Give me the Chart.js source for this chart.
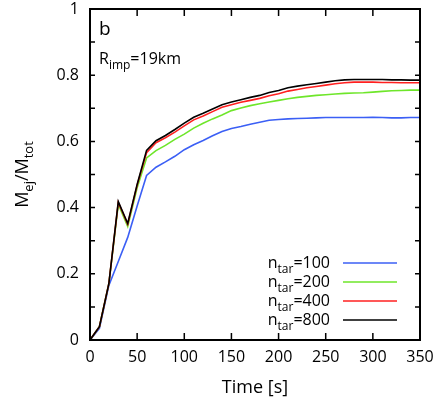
<!DOCTYPE html>
<html>
<head>
<meta charset="utf-8">
<script src="https://cdn.jsdelivr.net/npm/chart.js@4.4.0/dist/chart.umd.min.js"></script>
<style>
  html, body { margin: 0; padding: 0; background: #fff; }
  #wrap { width: 437px; height: 399px; }
</style>
</head>
<body>
<div id="wrap"><canvas id="myChart" width="437" height="399"></canvas></div>
<script>
var times = [0, 10, 20, 30, 40, 50, 60, 70, 80, 90, 100, 110, 120, 130, 140, 150, 160, 170, 180,
  190, 200, 210, 220, 230, 240, 250, 260, 270, 280, 290, 300, 310, 320, 330, 340, 350];

var n100 = [0, 0.035, 0.165, 0.237, 0.31, 0.405, 0.497, 0.522, 0.538, 0.555, 0.575, 0.59, 0.603,
  0.617, 0.63, 0.639, 0.645, 0.652, 0.658, 0.664, 0.666, 0.668, 0.669, 0.67, 0.671, 0.672, 0.672,
  0.672, 0.672, 0.672, 0.673, 0.672, 0.671, 0.671, 0.672, 0.672];
var n200 = [0, 0.04, 0.17, 0.41, 0.343, 0.46, 0.55, 0.572, 0.588, 0.606, 0.622, 0.64, 0.655,
  0.668, 0.68, 0.693, 0.701, 0.708, 0.714, 0.719, 0.724, 0.729, 0.733, 0.736, 0.739, 0.741, 0.743,
  0.745, 0.746, 0.747, 0.749, 0.751, 0.753, 0.754, 0.755, 0.755];
var n400 = [0, 0.04, 0.17, 0.416, 0.35, 0.468, 0.566, 0.596, 0.611, 0.628, 0.647, 0.665, 0.677,
  0.69, 0.703, 0.711, 0.718, 0.724, 0.73, 0.738, 0.744, 0.752, 0.757, 0.762, 0.766, 0.77, 0.774,
  0.777, 0.779, 0.779, 0.779, 0.778, 0.778, 0.777, 0.777, 0.777];
var n800 = [0, 0.04, 0.17, 0.418, 0.352, 0.47, 0.573, 0.602, 0.618, 0.636, 0.655, 0.673, 0.685,
  0.698, 0.711, 0.719, 0.726, 0.733, 0.739, 0.748, 0.754, 0.762, 0.767, 0.771, 0.775, 0.779, 0.783,
  0.786, 0.787, 0.787, 0.787, 0.787, 0.786, 0.786, 0.785, 0.785];

var seriesLabels = ["100", "200", "400", "800"];
var seriesColors = ["#3b5ff5", "#6ee62a", "#ff2020", "#000000"];
var seriesValues = [n100, n200, n400, n800];

var FONT = "'Open Sans', sans-serif";

function pts(vals) {
  return vals.map(function (v, i) { return { x: times[i], y: v }; });
}

// draws text with subscript parts, parts = [[text, isSub], ...]
function subText(ctx, parts, x, y, size, align) {
  var big = size + "px " + FONT, small = Math.round(size * 0.72) + "px " + FONT;
  var w = 0;
  parts.forEach(function (p) { ctx.font = p[1] ? small : big; w += ctx.measureText(p[0]).width; });
  var cx = align === "right" ? x - w : align === "center" ? x - w / 2 : x;
  parts.forEach(function (p) {
    ctx.font = p[1] ? small : big;
    ctx.fillText(p[0], cx, p[1] ? y + size * 0.3 : y);
    cx += ctx.measureText(p[0]).width;
  });
}

var frame = {
  id: "frame",
  afterDraw: function (chart) {
    var ctx = chart.ctx, a = chart.chartArea;
    var xs = chart.scales.x, ys = chart.scales.y;
    ctx.save();
    ctx.strokeStyle = "#000";
    ctx.lineWidth = 2;
    ctx.strokeRect(a.left, a.top, a.right - a.left, a.bottom - a.top);
    ctx.lineWidth = 1.5;
    ctx.beginPath();
    for (var t = 50; t < 350; t += 50) {
      var px = xs.getPixelForValue(t);
      ctx.moveTo(px, a.bottom); ctx.lineTo(px, a.bottom - 7);
      ctx.moveTo(px, a.top); ctx.lineTo(px, a.top + 7);
    }
    for (var k = 1; k < 10; k++) {
      var py = ys.getPixelForValue(k / 10);
      ctx.moveTo(a.left, py); ctx.lineTo(a.left + 5, py);
      ctx.moveTo(a.right, py); ctx.lineTo(a.right - 5, py);
    }
    ctx.stroke();

    ctx.fillStyle = "#000";
    ctx.textBaseline = "alphabetic";
    ctx.textAlign = "left";
    ctx.font = "19px " + FONT;
    ctx.fillText("b", a.left + 9, a.top + 26);
    subText(ctx, [["R", false], ["imp", true], ["=19km", false]], a.left + 9, a.top + 55, 16, "left");

    // x title
    ctx.font = "18px " + FONT;
    ctx.textAlign = "center";
    ctx.fillText("Time [s]", (a.left + a.right) / 2, 393);

    // y title
    ctx.save();
    ctx.translate(28, (a.top + a.bottom) / 2);
    ctx.rotate(-Math.PI / 2);
    ctx.textAlign = "left";
    subText(ctx, [["M", false], ["ej", true], ["/M", false], ["tot", true]], 0, 0, 18, "center");
    ctx.restore();

    // legend
    ctx.textAlign = "left";
    for (var i = 0; i < seriesLabels.length; i++) {
      var ly = 263 + i * 19;
      subText(ctx, [["n", false], ["tar", true], ["=" + seriesLabels[i], false]], 330, ly + 5, 16, "right");
      ctx.strokeStyle = seriesColors[i];
      ctx.lineWidth = 1.5;
      ctx.beginPath();
      ctx.moveTo(343, ly); ctx.lineTo(397, ly);
      ctx.stroke();
    }
    ctx.restore();
  }
};

var ctx = document.getElementById("myChart");
var myChart = new Chart(ctx, {
  type: "line",
  data: {
    datasets: seriesValues.map(function (vals, i) {
      return {
        label: "n_tar=" + seriesLabels[i],
        data: pts(vals),
        borderColor: seriesColors[i],
        borderWidth: 1.6,
        pointRadius: 0,
        tension: 0,
        fill: false,
        order: 3 - i,
      };
    }),
  },
  options: {
    responsive: false,
    animation: false,
    layout: { padding: { top: 9, right: 17, left: 0, bottom: 0 } },
    plugins: {
      legend: { display: false },
      tooltip: { enabled: false },
    },
    scales: {
      x: {
        type: "linear",
        min: 0,
        max: 350,
        grid: { display: false, drawTicks: false },
        border: { display: false },
        ticks: { stepSize: 50, padding: 8, color: "#000", font: { family: FONT, size: 16 } },
        afterFit: function (s) { s.height = 59; s.paddingLeft = 0; s.paddingRight = 0; },
      },
      y: {
        min: 0,
        max: 1,
        grid: { display: false, drawTicks: false },
        border: { display: false },
        ticks: {
          stepSize: 0.2,
          padding: 11,
          color: "#000",
          font: { family: FONT, size: 16 },
          callback: function (v) { return Math.round(v * 10) / 10 + ""; },
        },
        afterFit: function (s) { s.width = 90; s.paddingTop = 0; s.paddingBottom = 0; },
      },
    },
  },
  plugins: [frame],
});
</script>
</body>
</html>
